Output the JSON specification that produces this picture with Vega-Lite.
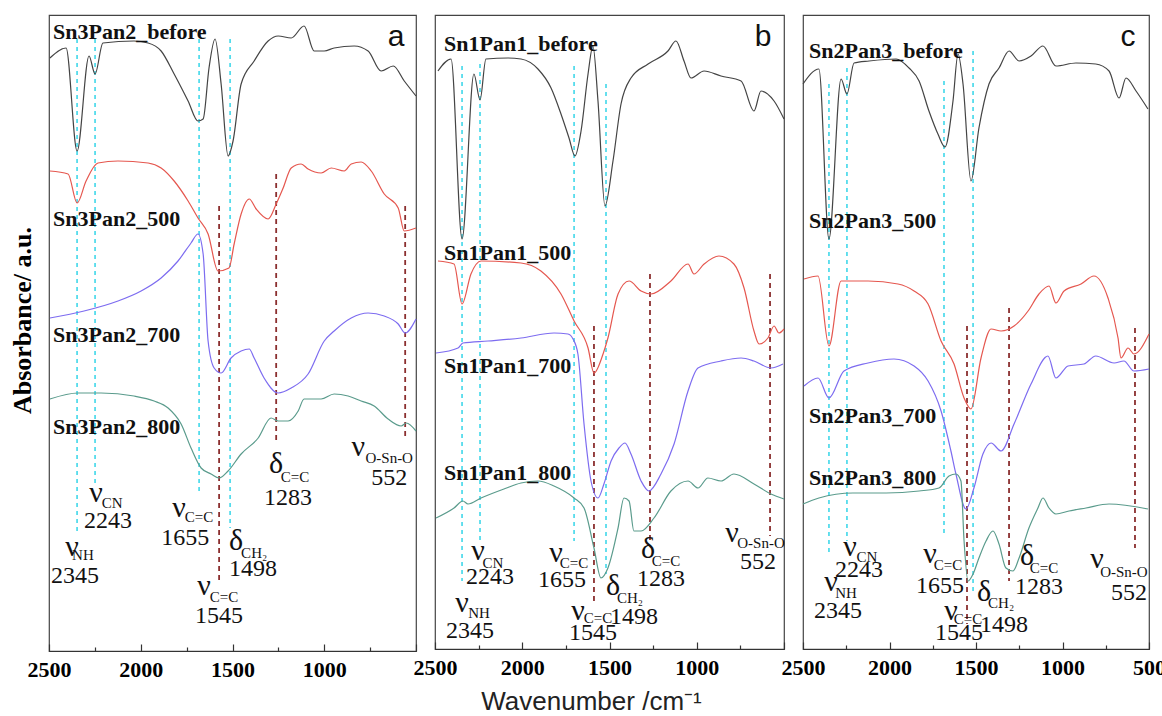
{
  "$schema": "https://vega.github.io/schema/vega-lite/v6.json",
  "padding": {"left": 8, "top": 14, "right": 0, "bottom": 0},
  "autosize": {"type": "pad"},
  "spacing": 19,
  "bounds": "flush",
  "background": "white",
  "config": {
    "view": {"stroke": "#444", "strokeWidth": 1.2},
    "axis": {"grid": false},
    "font": "Liberation Serif"
  },
  "resolve": {"scale": {"x": "independent", "y": "independent"}},
  "datasets": {
    "curves": [
      {"p":"a","s":"before","w":2495,"a":593},{"p":"a","s":"before","w":2407,"a":603},{"p":"a","s":"before","w":2347,"a":500},{"p":"a","s":"before","w":2282,"a":595},{"p":"a","s":"before","w":2249,"a":577},{"p":"a","s":"before","w":2206,"a":608},{"p":"a","s":"before","w":2037,"a":610},{"p":"a","s":"before","w":1960,"a":608},{"p":"a","s":"before","w":1889,"a":600},{"p":"a","s":"before","w":1818,"a":577},{"p":"a","s":"before","w":1742,"a":550},{"p":"a","s":"before","w":1688,"a":530},{"p":"a","s":"before","w":1660,"a":532},{"p":"a","s":"before","w":1628,"a":583},{"p":"a","s":"before","w":1595,"a":612},{"p":"a","s":"before","w":1562,"a":567},{"p":"a","s":"before","w":1524,"a":495},{"p":"a","s":"before","w":1497,"a":510},{"p":"a","s":"before","w":1453,"a":567},{"p":"a","s":"before","w":1382,"a":590},{"p":"a","s":"before","w":1306,"a":610},{"p":"a","s":"before","w":1251,"a":615},{"p":"a","s":"before","w":1180,"a":613},{"p":"a","s":"before","w":1110,"a":625},{"p":"a","s":"before","w":1055,"a":600},{"p":"a","s":"before","w":1000,"a":600},{"p":"a","s":"before","w":946,"a":603},{"p":"a","s":"before","w":837,"a":605},{"p":"a","s":"before","w":761,"a":600},{"p":"a","s":"before","w":690,"a":580},{"p":"a","s":"before","w":624,"a":585},{"p":"a","s":"before","w":564,"a":570},{"p":"a","s":"before","w":500,"a":555},
      {"p":"a","s":"500","w":2495,"a":480},{"p":"a","s":"500","w":2396,"a":477},{"p":"a","s":"500","w":2347,"a":448},{"p":"a","s":"500","w":2298,"a":470},{"p":"a","s":"500","w":2233,"a":488},{"p":"a","s":"500","w":2124,"a":490},{"p":"a","s":"500","w":1960,"a":488},{"p":"a","s":"500","w":1889,"a":483},{"p":"a","s":"500","w":1818,"a":470},{"p":"a","s":"500","w":1742,"a":450},{"p":"a","s":"500","w":1688,"a":433},{"p":"a","s":"500","w":1633,"a":417},{"p":"a","s":"500","w":1579,"a":380},{"p":"a","s":"500","w":1519,"a":383},{"p":"a","s":"500","w":1491,"a":407},{"p":"a","s":"500","w":1453,"a":437},{"p":"a","s":"500","w":1409,"a":452},{"p":"a","s":"500","w":1371,"a":442},{"p":"a","s":"500","w":1306,"a":432},{"p":"a","s":"500","w":1262,"a":447},{"p":"a","s":"500","w":1224,"a":463},{"p":"a","s":"500","w":1180,"a":483},{"p":"a","s":"500","w":1126,"a":487},{"p":"a","s":"500","w":1088,"a":482},{"p":"a","s":"500","w":1017,"a":478},{"p":"a","s":"500","w":962,"a":483},{"p":"a","s":"500","w":891,"a":480},{"p":"a","s":"500","w":853,"a":487},{"p":"a","s":"500","w":799,"a":489},{"p":"a","s":"500","w":744,"a":480},{"p":"a","s":"500","w":673,"a":457},{"p":"a","s":"500","w":597,"a":443},{"p":"a","s":"500","w":564,"a":420},{"p":"a","s":"500","w":500,"a":423},
      {"p":"a","s":"700","w":2495,"a":333},{"p":"a","s":"700","w":2309,"a":340},{"p":"a","s":"700","w":2124,"a":350},{"p":"a","s":"700","w":1998,"a":360},{"p":"a","s":"700","w":1889,"a":373},{"p":"a","s":"700","w":1797,"a":390},{"p":"a","s":"700","w":1726,"a":408},{"p":"a","s":"700","w":1688,"a":417},{"p":"a","s":"700","w":1660,"a":397},{"p":"a","s":"700","w":1633,"a":310},{"p":"a","s":"700","w":1600,"a":283},{"p":"a","s":"700","w":1562,"a":278},{"p":"a","s":"700","w":1508,"a":293},{"p":"a","s":"700","w":1453,"a":300},{"p":"a","s":"700","w":1409,"a":302},{"p":"a","s":"700","w":1382,"a":293},{"p":"a","s":"700","w":1328,"a":273},{"p":"a","s":"700","w":1251,"a":258},{"p":"a","s":"700","w":1180,"a":263},{"p":"a","s":"700","w":1088,"a":277},{"p":"a","s":"700","w":1000,"a":310},{"p":"a","s":"700","w":946,"a":320},{"p":"a","s":"700","w":853,"a":333},{"p":"a","s":"700","w":761,"a":338},{"p":"a","s":"700","w":673,"a":335},{"p":"a","s":"700","w":597,"a":327},{"p":"a","s":"700","w":559,"a":318},{"p":"a","s":"700","w":500,"a":332},
      {"p":"a","s":"800","w":2495,"a":252},{"p":"a","s":"800","w":2342,"a":258},{"p":"a","s":"800","w":2216,"a":258},{"p":"a","s":"800","w":2037,"a":255},{"p":"a","s":"800","w":1927,"a":250},{"p":"a","s":"800","w":1851,"a":243},{"p":"a","s":"800","w":1780,"a":227},{"p":"a","s":"800","w":1726,"a":203},{"p":"a","s":"800","w":1671,"a":183},{"p":"a","s":"800","w":1617,"a":177},{"p":"a","s":"800","w":1573,"a":173},{"p":"a","s":"800","w":1524,"a":180},{"p":"a","s":"800","w":1453,"a":197},{"p":"a","s":"800","w":1360,"a":213},{"p":"a","s":"800","w":1290,"a":233},{"p":"a","s":"800","w":1251,"a":230},{"p":"a","s":"800","w":1197,"a":230},{"p":"a","s":"800","w":1142,"a":240},{"p":"a","s":"800","w":1110,"a":252},{"p":"a","s":"800","w":1017,"a":252},{"p":"a","s":"800","w":946,"a":257},{"p":"a","s":"800","w":870,"a":255},{"p":"a","s":"800","w":799,"a":250},{"p":"a","s":"800","w":728,"a":245},{"p":"a","s":"800","w":652,"a":232},{"p":"a","s":"800","w":581,"a":225},{"p":"a","s":"800","w":553,"a":228},{"p":"a","s":"800","w":500,"a":220},
      {"p":"b","s":"before","w":2483,"a":578},{"p":"b","s":"before","w":2408,"a":590},{"p":"b","s":"before","w":2345,"a":410},{"p":"b","s":"before","w":2277,"a":575},{"p":"b","s":"before","w":2242,"a":549},{"p":"b","s":"before","w":2208,"a":590},{"p":"b","s":"before","w":2082,"a":591},{"p":"b","s":"before","w":2007,"a":590},{"p":"b","s":"before","w":1910,"a":580},{"p":"b","s":"before","w":1835,"a":561},{"p":"b","s":"before","w":1778,"a":535},{"p":"b","s":"before","w":1732,"a":511},{"p":"b","s":"before","w":1698,"a":493},{"p":"b","s":"before","w":1663,"a":518},{"p":"b","s":"before","w":1623,"a":575},{"p":"b","s":"before","w":1595,"a":603},{"p":"b","s":"before","w":1566,"a":548},{"p":"b","s":"before","w":1526,"a":443},{"p":"b","s":"before","w":1480,"a":488},{"p":"b","s":"before","w":1434,"a":545},{"p":"b","s":"before","w":1377,"a":571},{"p":"b","s":"before","w":1279,"a":585},{"p":"b","s":"before","w":1165,"a":598},{"p":"b","s":"before","w":1119,"a":608},{"p":"b","s":"before","w":1073,"a":588},{"p":"b","s":"before","w":1033,"a":571},{"p":"b","s":"before","w":958,"a":578},{"p":"b","s":"before","w":861,"a":573},{"p":"b","s":"before","w":746,"a":568},{"p":"b","s":"before","w":672,"a":538},{"p":"b","s":"before","w":632,"a":558},{"p":"b","s":"before","w":557,"a":548},{"p":"b","s":"before","w":500,"a":530},
      {"p":"b","s":"500","w":2483,"a":388},{"p":"b","s":"500","w":2391,"a":385},{"p":"b","s":"500","w":2345,"a":345},{"p":"b","s":"500","w":2294,"a":375},{"p":"b","s":"500","w":2236,"a":388},{"p":"b","s":"500","w":2007,"a":386},{"p":"b","s":"500","w":1893,"a":378},{"p":"b","s":"500","w":1778,"a":355},{"p":"b","s":"500","w":1703,"a":328},{"p":"b","s":"500","w":1623,"a":301},{"p":"b","s":"500","w":1589,"a":276},{"p":"b","s":"500","w":1537,"a":295},{"p":"b","s":"500","w":1509,"a":311},{"p":"b","s":"500","w":1451,"a":355},{"p":"b","s":"500","w":1388,"a":368},{"p":"b","s":"500","w":1319,"a":358},{"p":"b","s":"500","w":1262,"a":355},{"p":"b","s":"500","w":1148,"a":368},{"p":"b","s":"500","w":1050,"a":385},{"p":"b","s":"500","w":1016,"a":375},{"p":"b","s":"500","w":958,"a":385},{"p":"b","s":"500","w":873,"a":393},{"p":"b","s":"500","w":787,"a":385},{"p":"b","s":"500","w":729,"a":361},{"p":"b","s":"500","w":672,"a":318},{"p":"b","s":"500","w":643,"a":305},{"p":"b","s":"500","w":592,"a":311},{"p":"b","s":"500","w":557,"a":323},{"p":"b","s":"500","w":529,"a":316},{"p":"b","s":"500","w":500,"a":320},
      {"p":"b","s":"700","w":2494,"a":296},{"p":"b","s":"700","w":2368,"a":301},{"p":"b","s":"700","w":2340,"a":306},{"p":"b","s":"700","w":2196,"a":308},{"p":"b","s":"700","w":2007,"a":311},{"p":"b","s":"700","w":1818,"a":316},{"p":"b","s":"700","w":1738,"a":315},{"p":"b","s":"700","w":1709,"a":310},{"p":"b","s":"700","w":1681,"a":295},{"p":"b","s":"700","w":1646,"a":225},{"p":"b","s":"700","w":1606,"a":168},{"p":"b","s":"700","w":1566,"a":151},{"p":"b","s":"700","w":1532,"a":165},{"p":"b","s":"700","w":1491,"a":188},{"p":"b","s":"700","w":1446,"a":201},{"p":"b","s":"700","w":1411,"a":206},{"p":"b","s":"700","w":1377,"a":195},{"p":"b","s":"700","w":1319,"a":168},{"p":"b","s":"700","w":1274,"a":158},{"p":"b","s":"700","w":1205,"a":175},{"p":"b","s":"700","w":1130,"a":205},{"p":"b","s":"700","w":1050,"a":258},{"p":"b","s":"700","w":993,"a":281},{"p":"b","s":"700","w":861,"a":288},{"p":"b","s":"700","w":746,"a":291},{"p":"b","s":"700","w":672,"a":288},{"p":"b","s":"700","w":575,"a":281},{"p":"b","s":"700","w":506,"a":285},
      {"p":"b","s":"800","w":2494,"a":131},{"p":"b","s":"800","w":2391,"a":141},{"p":"b","s":"800","w":2340,"a":148},{"p":"b","s":"800","w":2311,"a":145},{"p":"b","s":"800","w":2236,"a":151},{"p":"b","s":"800","w":2105,"a":160},{"p":"b","s":"800","w":2007,"a":166},{"p":"b","s":"800","w":1910,"a":168},{"p":"b","s":"800","w":1818,"a":163},{"p":"b","s":"800","w":1703,"a":151},{"p":"b","s":"800","w":1646,"a":141},{"p":"b","s":"800","w":1589,"a":101},{"p":"b","s":"800","w":1549,"a":71},{"p":"b","s":"800","w":1509,"a":81},{"p":"b","s":"800","w":1451,"a":121},{"p":"b","s":"800","w":1417,"a":151},{"p":"b","s":"800","w":1388,"a":148},{"p":"b","s":"800","w":1360,"a":118},{"p":"b","s":"800","w":1319,"a":118},{"p":"b","s":"800","w":1245,"a":131},{"p":"b","s":"800","w":1148,"a":158},{"p":"b","s":"800","w":1050,"a":168},{"p":"b","s":"800","w":993,"a":161},{"p":"b","s":"800","w":936,"a":171},{"p":"b","s":"800","w":861,"a":168},{"p":"b","s":"800","w":787,"a":175},{"p":"b","s":"800","w":672,"a":165},{"p":"b","s":"800","w":575,"a":155},{"p":"b","s":"800","w":500,"a":150},
      {"p":"c","s":"before","w":2500,"a":565},{"p":"c","s":"before","w":2408,"a":580},{"p":"c","s":"before","w":2350,"a":410},{"p":"c","s":"before","w":2280,"a":570},{"p":"c","s":"before","w":2246,"a":555},{"p":"c","s":"before","w":2205,"a":586},{"p":"c","s":"before","w":2118,"a":588},{"p":"c","s":"before","w":1962,"a":590},{"p":"c","s":"before","w":1887,"a":581},{"p":"c","s":"before","w":1829,"a":568},{"p":"c","s":"before","w":1772,"a":538},{"p":"c","s":"before","w":1720,"a":515},{"p":"c","s":"before","w":1679,"a":502},{"p":"c","s":"before","w":1633,"a":548},{"p":"c","s":"before","w":1604,"a":595},{"p":"c","s":"before","w":1575,"a":565},{"p":"c","s":"before","w":1529,"a":468},{"p":"c","s":"before","w":1483,"a":521},{"p":"c","s":"before","w":1425,"a":565},{"p":"c","s":"before","w":1367,"a":581},{"p":"c","s":"before","w":1309,"a":598},{"p":"c","s":"before","w":1251,"a":588},{"p":"c","s":"before","w":1182,"a":593},{"p":"c","s":"before","w":1113,"a":603},{"p":"c","s":"before","w":1038,"a":583},{"p":"c","s":"before","w":922,"a":586},{"p":"c","s":"before","w":808,"a":585},{"p":"c","s":"before","w":731,"a":578},{"p":"c","s":"before","w":673,"a":551},{"p":"c","s":"before","w":633,"a":571},{"p":"c","s":"before","w":575,"a":558},{"p":"c","s":"before","w":506,"a":540},
      {"p":"c","s":"500","w":2494,"a":370},{"p":"c","s":"500","w":2413,"a":373},{"p":"c","s":"500","w":2350,"a":303},{"p":"c","s":"500","w":2280,"a":368},{"p":"c","s":"500","w":2124,"a":368},{"p":"c","s":"500","w":1951,"a":365},{"p":"c","s":"500","w":1858,"a":358},{"p":"c","s":"500","w":1777,"a":345},{"p":"c","s":"500","w":1702,"a":308},{"p":"c","s":"500","w":1627,"a":285},{"p":"c","s":"500","w":1569,"a":251},{"p":"c","s":"500","w":1529,"a":240},{"p":"c","s":"500","w":1471,"a":291},{"p":"c","s":"500","w":1413,"a":320},{"p":"c","s":"500","w":1355,"a":318},{"p":"c","s":"500","w":1280,"a":323},{"p":"c","s":"500","w":1199,"a":338},{"p":"c","s":"500","w":1136,"a":355},{"p":"c","s":"500","w":1078,"a":363},{"p":"c","s":"500","w":1038,"a":346},{"p":"c","s":"500","w":991,"a":358},{"p":"c","s":"500","w":893,"a":365},{"p":"c","s":"500","w":818,"a":373},{"p":"c","s":"500","w":737,"a":351},{"p":"c","s":"500","w":679,"a":311},{"p":"c","s":"500","w":662,"a":291},{"p":"c","s":"500","w":621,"a":301},{"p":"c","s":"500","w":587,"a":295},{"p":"c","s":"500","w":500,"a":315},
      {"p":"c","s":"700","w":2494,"a":263},{"p":"c","s":"700","w":2413,"a":271},{"p":"c","s":"700","w":2350,"a":251},{"p":"c","s":"700","w":2263,"a":278},{"p":"c","s":"700","w":2124,"a":286},{"p":"c","s":"700","w":1974,"a":290},{"p":"c","s":"700","w":1858,"a":283},{"p":"c","s":"700","w":1777,"a":268},{"p":"c","s":"700","w":1702,"a":238},{"p":"c","s":"700","w":1645,"a":198},{"p":"c","s":"700","w":1616,"a":175},{"p":"c","s":"700","w":1558,"a":140},{"p":"c","s":"700","w":1512,"a":161},{"p":"c","s":"700","w":1460,"a":195},{"p":"c","s":"700","w":1413,"a":206},{"p":"c","s":"700","w":1355,"a":198},{"p":"c","s":"700","w":1280,"a":225},{"p":"c","s":"700","w":1182,"a":265},{"p":"c","s":"700","w":1084,"a":293},{"p":"c","s":"700","w":1038,"a":271},{"p":"c","s":"700","w":968,"a":283},{"p":"c","s":"700","w":876,"a":285},{"p":"c","s":"700","w":808,"a":293},{"p":"c","s":"700","w":702,"a":286},{"p":"c","s":"700","w":645,"a":288},{"p":"c","s":"700","w":587,"a":278},{"p":"c","s":"700","w":500,"a":280},
      {"p":"c","s":"800","w":2500,"a":145},{"p":"c","s":"800","w":2408,"a":151},{"p":"c","s":"800","w":2211,"a":156},{"p":"c","s":"800","w":2020,"a":156},{"p":"c","s":"800","w":1829,"a":158},{"p":"c","s":"800","w":1714,"a":161},{"p":"c","s":"800","w":1656,"a":173},{"p":"c","s":"800","w":1616,"a":175},{"p":"c","s":"800","w":1587,"a":168},{"p":"c","s":"800","w":1569,"a":108},{"p":"c","s":"800","w":1546,"a":68},{"p":"c","s":"800","w":1517,"a":75},{"p":"c","s":"800","w":1483,"a":91},{"p":"c","s":"800","w":1442,"a":108},{"p":"c","s":"800","w":1402,"a":118},{"p":"c","s":"800","w":1367,"a":105},{"p":"c","s":"800","w":1327,"a":81},{"p":"c","s":"800","w":1286,"a":78},{"p":"c","s":"800","w":1251,"a":91},{"p":"c","s":"800","w":1194,"a":121},{"p":"c","s":"800","w":1142,"a":141},{"p":"c","s":"800","w":1113,"a":151},{"p":"c","s":"800","w":1078,"a":141},{"p":"c","s":"800","w":1038,"a":135},{"p":"c","s":"800","w":962,"a":138},{"p":"c","s":"800","w":864,"a":141},{"p":"c","s":"800","w":731,"a":145},{"p":"c","s":"800","w":506,"a":140}
    ],
    "lines": [
      {"p":"a","k":"c","w":2347,"a":612,"a2":120},{"p":"a","k":"c","w":2249,"a":612,"a2":167},{"p":"a","k":"c","w":1682,"a":612,"a2":157},{"p":"a","k":"c","w":1513,"a":612,"a2":123},
      {"p":"a","k":"r","w":1573,"a":445,"a2":70},{"p":"a","k":"r","w":1262,"a":477,"a2":207},{"p":"a","k":"r","w":559,"a":445,"a2":213},
      {"p":"b","k":"c","w":2345,"a":583,"a2":68},{"p":"b","k":"c","w":2242,"a":585,"a2":108},{"p":"b","k":"c","w":1703,"a":583,"a2":108},{"p":"b","k":"c","w":1520,"a":565,"a2":75},
      {"p":"b","k":"r","w":1589,"a":323,"a2":48},{"p":"b","k":"r","w":1268,"a":375,"a2":108},{"p":"b","k":"r","w":580,"a":375,"a2":113},
      {"p":"c","k":"c","w":2350,"a":565,"a2":95},{"p":"c","k":"c","w":2246,"a":581,"a2":108},{"p":"c","k":"c","w":1685,"a":568,"a2":115},{"p":"c","k":"c","w":1517,"a":598,"a2":58},
      {"p":"c","k":"r","w":1552,"a":323,"a2":25},{"p":"c","k":"r","w":1309,"a":341,"a2":68},{"p":"c","k":"r","w":581,"a":321,"a2":101}
    ],
    "texts": [
      {"p":"a","k":"series","t":"Sn3Pan2_before","w":2478,"a":619},{"p":"a","k":"series","t":"Sn3Pan2_500","w":2478,"a":432},{"p":"a","k":"series","t":"Sn3Pan2_700","w":2478,"a":316},{"p":"a","k":"series","t":"Sn3Pan2_800","w":2478,"a":224},
      {"p":"a","k":"letter","t":"a","w":608,"a":605},
      {"p":"a","k":"sym","t":"ν","w":2375,"a":104},{"p":"a","k":"sym","t":"ν","w":2244,"a":158},{"p":"a","k":"sym","t":"ν","w":1791,"a":143},{"p":"a","k":"sym","t":"δ","w":1480,"a":110},{"p":"a","k":"sym","t":"ν","w":1655,"a":65},{"p":"a","k":"sym","t":"δ","w":1262,"a":187},{"p":"a","k":"sym","t":"ν","w":815,"a":204},
      {"p":"a","k":"sub","t":"NH","w":2315,"a":96},{"p":"a","k":"sub","t":"CN","w":2156,"a":148},{"p":"a","k":"sub","t":"C=C","w":1682,"a":134},{"p":"a","k":"sub","t":"CH₂","w":1382,"a":98},{"p":"a","k":"sub","t":"C=C","w":1546,"a":54},{"p":"a","k":"sub","t":"C=C","w":1159,"a":174},{"p":"a","k":"sub","t":"O-Sn-O","w":646,"a":193},
      {"p":"a","k":"num","t":"2345","w":2358,"a":75},{"p":"a","k":"num","t":"2243","w":2178,"a":130},{"p":"a","k":"num","t":"1655","w":1758,"a":113},{"p":"a","k":"num","t":"1498","w":1388,"a":82},{"p":"a","k":"num","t":"1545","w":1573,"a":35},{"p":"a","k":"num","t":"1283","w":1197,"a":153},{"p":"a","k":"num","t":"552","w":646,"a":173},
      {"p":"b","k":"series","t":"Sn1Pan1_before","w":2448,"a":605},{"p":"b","k":"series","t":"Sn1Pan1_500","w":2448,"a":396},{"p":"b","k":"series","t":"Sn1Pan1_700","w":2448,"a":283},{"p":"b","k":"series","t":"Sn1Pan1_800","w":2448,"a":176},
      {"p":"b","k":"letter","t":"b","w":620,"a":603},
      {"p":"b","k":"sym","t":"ν","w":2254,"a":98},{"p":"b","k":"sym","t":"ν","w":2345,"a":46},{"p":"b","k":"sym","t":"ν","w":1807,"a":96},{"p":"b","k":"sym","t":"δ","w":1480,"a":63},{"p":"b","k":"sym","t":"ν","w":1681,"a":38},{"p":"b","k":"sym","t":"δ","w":1279,"a":100},{"p":"b","k":"sym","t":"ν","w":798,"a":116},
      {"p":"b","k":"sub","t":"CN","w":2168,"a":86},{"p":"b","k":"sub","t":"NH","w":2248,"a":36},{"p":"b","k":"sub","t":"C=C","w":1703,"a":86},{"p":"b","k":"sub","t":"CH₂","w":1383,"a":51},{"p":"b","k":"sub","t":"C=C","w":1566,"a":31},{"p":"b","k":"sub","t":"C=C","w":1176,"a":88},{"p":"b","k":"sub","t":"O-Sn-O","w":632,"a":106},
      {"p":"b","k":"num","t":"2243","w":2185,"a":72},{"p":"b","k":"num","t":"2345","w":2299,"a":18},{"p":"b","k":"num","t":"1655","w":1772,"a":69},{"p":"b","k":"num","t":"1498","w":1360,"a":32},{"p":"b","k":"num","t":"1545","w":1595,"a":16},{"p":"b","k":"num","t":"1283","w":1205,"a":70},{"p":"b","k":"num","t":"552","w":649,"a":87},
      {"p":"c","k":"series","t":"Sn2Pan3_before","w":2465,"a":598},{"p":"c","k":"series","t":"Sn2Pan3_500","w":2465,"a":428},{"p":"c","k":"series","t":"Sn2Pan3_700","w":2465,"a":233},{"p":"c","k":"series","t":"Sn2Pan3_800","w":2465,"a":171},
      {"p":"c","k":"letter","t":"c","w":621,"a":603},
      {"p":"c","k":"sym","t":"ν","w":2228,"a":102},{"p":"c","k":"sym","t":"ν","w":2338,"a":67},{"p":"c","k":"sym","t":"ν","w":1766,"a":95},{"p":"c","k":"sym","t":"δ","w":1454,"a":57},{"p":"c","k":"sym","t":"ν","w":1645,"a":38},{"p":"c","k":"sym","t":"δ","w":1205,"a":93},{"p":"c","k":"sym","t":"ν","w":801,"a":90},
      {"p":"c","k":"sub","t":"CN","w":2130,"a":92},{"p":"c","k":"sub","t":"NH","w":2251,"a":56},{"p":"c","k":"sub","t":"C=C","w":1662,"a":84},{"p":"c","k":"sub","t":"CH₂","w":1355,"a":46},{"p":"c","k":"sub","t":"C=C","w":1546,"a":30},{"p":"c","k":"sub","t":"C=C","w":1107,"a":81},{"p":"c","k":"sub","t":"O-Sn-O","w":645,"a":77},
      {"p":"c","k":"num","t":"2243","w":2176,"a":79},{"p":"c","k":"num","t":"2345","w":2298,"a":38},{"p":"c","k":"num","t":"1655","w":1708,"a":63},{"p":"c","k":"num","t":"1498","w":1338,"a":24},{"p":"c","k":"num","t":"1545","w":1598,"a":16},{"p":"c","k":"num","t":"1283","w":1136,"a":62},{"p":"c","k":"num","t":"552","w":616,"a":56}
    ]
  },
  "hconcat": [
    {
      "width": 367, "height": 636,
      "encoding": {
        "x": {"field": "w", "type": "quantitative", "scale": {"domain": [2500, 500], "nice": false, "zero": false},
          "axis": {"values": [2500,2250,2000,1750,1500,1250,1000,750,500], "format": "d", "labelExpr": "datum.value % 500 === 0 && datum.value > 500 ? datum.label : ''", "tickSize": {"condition": {"test": "datum.value % 500 === 0", "value": -7}, "value": -4}, "tickColor": "#333", "tickWidth": 1.2, "domainColor": "#333", "domainWidth": 1.2, "labelPadding": 15, "labelFont": "Liberation Serif", "labelFontWeight": "bold", "labelFontSize": 22, "labelColor": "#000", "labelOverlap": false, "labelFlush": false, "labelBound": false, "title": null}},
        "y": {"field": "a", "type": "quantitative", "scale": {"domain": [0, 636], "nice": false, "zero": false},
          "axis": {"title": "Absorbance/ a.u.", "labels": false, "ticks": false, "domain": false, "titleFont": "Liberation Serif", "titleFontWeight": "bold", "titleFontSize": 26, "titleColor": "#000", "titlePadding": 14, "titleY": 305}}
      },
      "layer": [
        {"data": {"name": "lines"}, "transform": [{"filter": "datum.p === 'a' && datum.k === 'c'"}], "mark": {"type": "rule", "color": "#55dcec", "strokeWidth": 1.8, "strokeDash": [4, 4]}, "encoding": {"y2": {"field": "a2"}}},
        {"data": {"name": "lines"}, "transform": [{"filter": "datum.p === 'a' && datum.k === 'r'"}], "mark": {"type": "rule", "color": "#8b2f2f", "strokeWidth": 1.8, "strokeDash": [5, 4]}, "encoding": {"y2": {"field": "a2"}}},
        {"data": {"name": "curves"}, "transform": [{"filter": "datum.p === 'a'"}], "mark": {"type": "line", "strokeWidth": 1.2, "interpolate": "monotone"}, "encoding": {"color": {"field": "s", "type": "nominal", "scale": {"domain": ["before", "500", "700", "800"], "range": ["#444444", "#e5574f", "#7d6cf0", "#5a9b8c"]}, "legend": null}}},
        {"data": {"name": "texts"}, "transform": [{"filter": "datum.p === 'a' && datum.k === 'series'"}], "mark": {"type": "text", "font": "Liberation Serif", "fontWeight": "bold", "fontSize": 22, "align": "left", "baseline": "middle", "color": "#111"}, "encoding": {"text": {"field": "t"}}},
        {"data": {"name": "texts"}, "transform": [{"filter": "datum.p === 'a' && datum.k === 'sym'"}], "mark": {"type": "text", "font": "Liberation Serif", "fontSize": 30, "align": "center", "baseline": "middle", "color": "#111"}, "encoding": {"text": {"field": "t"}}},
        {"data": {"name": "texts"}, "transform": [{"filter": "datum.p === 'a' && datum.k === 'sub'"}], "mark": {"type": "text", "font": "Liberation Serif", "fontSize": 15, "align": "center", "baseline": "middle", "color": "#111"}, "encoding": {"text": {"field": "t"}}},
        {"data": {"name": "texts"}, "transform": [{"filter": "datum.p === 'a' && datum.k === 'num'"}], "mark": {"type": "text", "font": "Liberation Serif", "fontSize": 24, "align": "center", "baseline": "middle", "color": "#111"}, "encoding": {"text": {"field": "t"}}},
        {"data": {"name": "texts"}, "transform": [{"filter": "datum.p === 'a' && datum.k === 'letter'"}], "mark": {"type": "text", "font": "Liberation Sans", "fontSize": 30, "align": "center", "baseline": "alphabetic", "color": "#111"}, "encoding": {"text": {"field": "t"}}}
      ]
    },
    {
      "width": 349, "height": 634,
      "encoding": {
        "x": {"field": "w", "type": "quantitative", "scale": {"domain": [2500, 500], "nice": false, "zero": false},
          "axis": {"values": [2500,2250,2000,1750,1500,1250,1000,750,500], "format": "d", "labelExpr": "datum.value % 500 === 0 && datum.value > 500 ? datum.label : ''", "tickSize": {"condition": {"test": "datum.value % 500 === 0", "value": -7}, "value": -4}, "tickColor": "#333", "tickWidth": 1.2, "domainColor": "#333", "domainWidth": 1.2, "labelPadding": 15, "labelFont": "Liberation Serif", "labelFontWeight": "bold", "labelFontSize": 22, "labelColor": "#000", "labelOverlap": false, "labelFlush": false, "labelBound": false,
            "title": "Wavenumber /cm⁻¹", "titleFont": "Liberation Sans", "titleFontWeight": "normal", "titleFontSize": 26, "titleColor": "#222", "titleX": 156, "titleY": 60, "titleBaseline": "alphabetic", "titleAlign": "center"}},
        "y": {"field": "a", "type": "quantitative", "scale": {"domain": [0, 634], "nice": false, "zero": false}, "axis": null}
      },
      "layer": [
        {"data": {"name": "lines"}, "transform": [{"filter": "datum.p === 'b' && datum.k === 'c'"}], "mark": {"type": "rule", "color": "#55dcec", "strokeWidth": 1.8, "strokeDash": [4, 4]}, "encoding": {"y2": {"field": "a2"}}},
        {"data": {"name": "lines"}, "transform": [{"filter": "datum.p === 'b' && datum.k === 'r'"}], "mark": {"type": "rule", "color": "#8b2f2f", "strokeWidth": 1.8, "strokeDash": [5, 4]}, "encoding": {"y2": {"field": "a2"}}},
        {"data": {"name": "curves"}, "transform": [{"filter": "datum.p === 'b'"}], "mark": {"type": "line", "strokeWidth": 1.2, "interpolate": "monotone"}, "encoding": {"color": {"field": "s", "type": "nominal", "scale": {"domain": ["before", "500", "700", "800"], "range": ["#444444", "#e5574f", "#7d6cf0", "#5a9b8c"]}, "legend": null}}},
        {"data": {"name": "texts"}, "transform": [{"filter": "datum.p === 'b' && datum.k === 'series'"}], "mark": {"type": "text", "font": "Liberation Serif", "fontWeight": "bold", "fontSize": 22, "align": "left", "baseline": "middle", "color": "#111"}, "encoding": {"text": {"field": "t"}}},
        {"data": {"name": "texts"}, "transform": [{"filter": "datum.p === 'b' && datum.k === 'sym'"}], "mark": {"type": "text", "font": "Liberation Serif", "fontSize": 30, "align": "center", "baseline": "middle", "color": "#111"}, "encoding": {"text": {"field": "t"}}},
        {"data": {"name": "texts"}, "transform": [{"filter": "datum.p === 'b' && datum.k === 'sub'"}], "mark": {"type": "text", "font": "Liberation Serif", "fontSize": 15, "align": "center", "baseline": "middle", "color": "#111"}, "encoding": {"text": {"field": "t"}}},
        {"data": {"name": "texts"}, "transform": [{"filter": "datum.p === 'b' && datum.k === 'num'"}], "mark": {"type": "text", "font": "Liberation Serif", "fontSize": 24, "align": "center", "baseline": "middle", "color": "#111"}, "encoding": {"text": {"field": "t"}}},
        {"data": {"name": "texts"}, "transform": [{"filter": "datum.p === 'b' && datum.k === 'letter'"}], "mark": {"type": "text", "font": "Liberation Sans", "fontSize": 30, "align": "center", "baseline": "alphabetic", "color": "#111"}, "encoding": {"text": {"field": "t"}}}
      ]
    },
    {
      "width": 346, "height": 634,
      "encoding": {
        "x": {"field": "w", "type": "quantitative", "scale": {"domain": [2500, 500], "nice": false, "zero": false},
          "axis": {"values": [2500,2250,2000,1750,1500,1250,1000,750,500], "format": "d", "labelExpr": "datum.value % 500 === 0 ? datum.label : ''", "tickSize": {"condition": {"test": "datum.value % 500 === 0", "value": -7}, "value": -4}, "tickColor": "#333", "tickWidth": 1.2, "domainColor": "#333", "domainWidth": 1.2, "labelPadding": 15, "labelFont": "Liberation Serif", "labelFontWeight": "bold", "labelFontSize": 22, "labelColor": "#000", "labelOverlap": false, "labelFlush": false, "labelBound": false, "title": null}},
        "y": {"field": "a", "type": "quantitative", "scale": {"domain": [0, 634], "nice": false, "zero": false}, "axis": null}
      },
      "layer": [
        {"data": {"name": "lines"}, "transform": [{"filter": "datum.p === 'c' && datum.k === 'c'"}], "mark": {"type": "rule", "color": "#55dcec", "strokeWidth": 1.8, "strokeDash": [4, 4]}, "encoding": {"y2": {"field": "a2"}}},
        {"data": {"name": "lines"}, "transform": [{"filter": "datum.p === 'c' && datum.k === 'r'"}], "mark": {"type": "rule", "color": "#8b2f2f", "strokeWidth": 1.8, "strokeDash": [5, 4]}, "encoding": {"y2": {"field": "a2"}}},
        {"data": {"name": "curves"}, "transform": [{"filter": "datum.p === 'c'"}], "mark": {"type": "line", "strokeWidth": 1.2, "interpolate": "monotone"}, "encoding": {"color": {"field": "s", "type": "nominal", "scale": {"domain": ["before", "500", "700", "800"], "range": ["#444444", "#e5574f", "#7d6cf0", "#5a9b8c"]}, "legend": null}}},
        {"data": {"name": "texts"}, "transform": [{"filter": "datum.p === 'c' && datum.k === 'series'"}], "mark": {"type": "text", "font": "Liberation Serif", "fontWeight": "bold", "fontSize": 22, "align": "left", "baseline": "middle", "color": "#111"}, "encoding": {"text": {"field": "t"}}},
        {"data": {"name": "texts"}, "transform": [{"filter": "datum.p === 'c' && datum.k === 'sym'"}], "mark": {"type": "text", "font": "Liberation Serif", "fontSize": 30, "align": "center", "baseline": "middle", "color": "#111"}, "encoding": {"text": {"field": "t"}}},
        {"data": {"name": "texts"}, "transform": [{"filter": "datum.p === 'c' && datum.k === 'sub'"}], "mark": {"type": "text", "font": "Liberation Serif", "fontSize": 15, "align": "center", "baseline": "middle", "color": "#111"}, "encoding": {"text": {"field": "t"}}},
        {"data": {"name": "texts"}, "transform": [{"filter": "datum.p === 'c' && datum.k === 'num'"}], "mark": {"type": "text", "font": "Liberation Serif", "fontSize": 24, "align": "center", "baseline": "middle", "color": "#111"}, "encoding": {"text": {"field": "t"}}},
        {"data": {"name": "texts"}, "transform": [{"filter": "datum.p === 'c' && datum.k === 'letter'"}], "mark": {"type": "text", "font": "Liberation Sans", "fontSize": 30, "align": "center", "baseline": "alphabetic", "color": "#111"}, "encoding": {"text": {"field": "t"}}}
      ]
    }
  ]
}
